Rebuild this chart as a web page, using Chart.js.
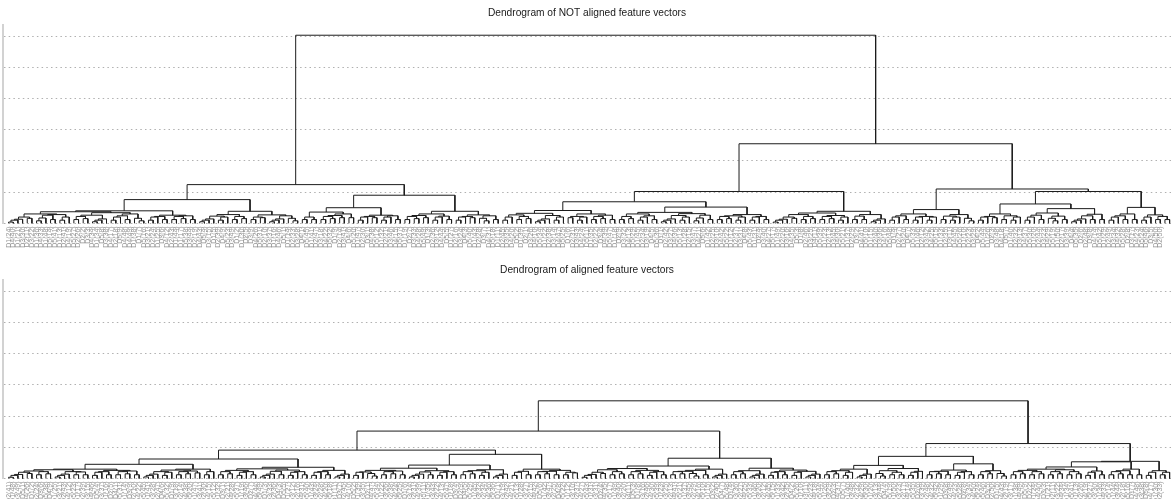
<!DOCTYPE html>
<html>
<head>
<meta charset="utf-8">
<script src="https://cdn.jsdelivr.net/npm/chart.js@4.4.0/dist/chart.umd.min.js"></script>
<style>
  body { margin: 0; background: #fff; }
  canvas { position: absolute; left: 0; }
  #top { top: 0; }
  #bottom { top: 258px; }
</style>
</head>
<body>
<canvas id="top" width="1171" height="258"></canvas>
<canvas id="bottom" width="1171" height="241"></canvas>
<script>
// titulos dos dois paineis
const titles = ['Dendrogram of NOT aligned feature vectors', 'Dendrogram of aligned feature vectors'];
// linhas de grade (altura de fusao)
const yGrid = [0, 1, 2, 3, 4, 5, 6];

// rotulos das folhas, na ordem do dendrograma
const topLabels = (
  'D1(24) D4(40) D1(21) D3(30) D2(11) D3(22) D1(36) D4(33) D1(48) D5(14) ' +
  'D5(41) D1(13) D2(41) D4(19) D5(27) D2(26) D2(2) D3(3) D4(34) D1(34) ' +
  'D5(8) D3(38) D4(17) D2(18) D5(9) D4(48) D4(49) D1(38) D1(7) D5(16) ' +
  'D3(21) D2(24) D1(25) D3(6) D4(12) D2(43) D1(44) D1(17) D5(38) D3(44) ' +
  'D2(19) D4(43) D5(4) D3(15) D1(5) D2(39) D4(9) D5(23) D3(49) D1(2) ' +
  'D1(30) D2(5) D3(9) D4(26) D5(31) D2(10) D3(37) D1(16) D4(46) D5(1) ' +
  'D1(14) D2(33) D3(28) D4(1) D5(45) D1(41) D2(47) D3(18) D4(22) D5(32) ' +
  'D1(9) D2(14) D3(41) D4(6) D5(20) D1(47) D2(30) D3(1) D4(38) D5(12) ' +
  'D1(32) D2(21) D3(46) D4(15) D5(37) D1(19) D2(7) D3(33) D4(28) D5(49) ' +
  'D1(3) D2(36) D3(12) D4(44) D5(5) D1(27) D2(16) D3(24) D4(3) D5(40) ' +
  'D1(43) D2(28) D3(7) D4(31) D5(18) D1(11) D2(45) D3(35) D4(20) D5(2) ' +
  'D1(39) D2(1) D3(26) D4(10) D5(34) D1(22) D2(38) D3(14) D4(47) D5(25) ' +
  'D1(6) D2(31) D3(43) D4(24) D5(11) D1(35) D2(22) D3(4) D4(39) D5(47) ' +
  'D1(18) D2(9) D3(32) D4(13) D5(29) D1(45) D2(34) D3(19) D4(5) D5(36) ' +
  'D1(1) D2(42) D3(27) D4(36) D5(13) D1(28) D2(15) D3(47) D4(21) D5(6) ' +
  'D1(42) D2(25) D3(10) D4(42) D5(22) D1(12) D2(37) D3(31) D4(8) D5(43) ' +
  'D1(31) D2(4) D3(40) D4(27) D5(17) D1(49) D2(20) D3(16) D4(35) D5(3) ' +
  'D1(8) D2(46) D3(25) D4(11) D5(39) D1(23) D2(13) D3(45) D4(30) D5(21) ' +
  'D1(37) D2(29) D3(2) D4(41) D5(10) D1(15) D2(40) D3(36) D4(16) D5(48) ' +
  'D1(4) D2(27) D3(20) D4(7) D5(33) D1(46) D2(12) D3(42) D4(25) D5(15) ' +
  'D1(33) D2(35) D3(11) D4(45) D5(26) D1(10) D2(23) D3(29) D4(2) D5(44) ' +
  'D1(26) D2(3) D3(48) D4(18) D5(7) D1(40) D2(32) D3(13) D4(37) D5(30) ' +
  'D1(20) D2(44) D3(23) D4(29) D5(19) D1(50) D2(17) D3(39) D4(4) D5(35) ' +
  'D2(6) D2(48) D3(8) D4(14) D5(42) D1(29) D2(49) D3(34) D4(32) D5(28) ' +
  'D2(8) D3(17) D4(23) D5(24) D5(46) D3(5) D4(50) D2(50)').split(' ');

const bottomLabels = (
  'D2(41) D1(48) D3(49) D5(1) D4(26) D1(2) D2(24) D3(6) D5(38) D4(9) ' +
  'D1(25) D3(21) D2(43) D4(12) D5(23) D1(17) D2(39) D3(15) D4(46) D5(4) ' +
  'D3(37) D1(16) D2(5) D4(1) D5(31) D1(14) D3(9) D2(10) D4(22) D5(45) ' +
  'D1(41) D3(28) D2(47) D4(6) D5(32) D1(9) D3(18) D2(14) D4(38) D5(20) ' +
  'D1(47) D3(41) D2(30) D4(15) D5(12) D1(32) D3(1) D2(21) D4(28) D5(37) ' +
  'D1(19) D3(46) D2(7) D4(44) D5(49) D1(3) D3(33) D2(36) D4(3) D5(5) ' +
  'D1(27) D3(12) D2(16) D4(31) D5(40) D1(43) D3(24) D2(28) D4(20) D5(18) ' +
  'D1(11) D3(7) D2(45) D4(10) D5(2) D1(39) D3(35) D2(1) D4(47) D5(34) ' +
  'D1(22) D3(26) D2(38) D4(24) D5(25) D1(6) D3(14) D2(31) D4(39) D5(11) ' +
  'D1(35) D3(43) D2(22) D4(13) D5(47) D1(18) D3(4) D2(9) D4(5) D5(29) ' +
  'D1(45) D3(32) D2(34) D4(36) D5(36) D1(1) D3(19) D2(42) D4(21) D5(13) ' +
  'D1(28) D3(27) D2(15) D4(42) D5(6) D1(42) D3(47) D2(25) D4(8) D5(22) ' +
  'D1(12) D3(10) D2(37) D4(27) D5(43) D1(31) D3(31) D2(4) D4(35) D5(17) ' +
  'D1(49) D3(40) D2(20) D4(11) D5(3) D1(8) D3(16) D2(46) D4(30) D5(39) ' +
  'D1(23) D3(25) D2(13) D4(41) D5(21) D1(37) D3(45) D2(29) D4(16) D5(10) ' +
  'D1(15) D3(2) D2(40) D4(7) D5(48) D1(4) D3(36) D2(27) D4(25) D5(33) ' +
  'D1(46) D3(20) D2(12) D4(45) D5(15) D1(33) D3(42) D2(35) D4(2) D5(26) ' +
  'D1(10) D3(11) D2(23) D4(18) D5(44) D1(26) D3(29) D2(3) D4(37) D5(7) ' +
  'D1(40) D3(48) D2(32) D4(29) D5(30) D1(20) D3(13) D2(44) D4(4) D5(19) ' +
  'D1(50) D3(23) D2(17) D4(14) D5(35) D2(6) D3(39) D2(48) D4(32) D5(42) ' +
  'D1(29) D3(8) D2(49) D4(23) D5(28) D2(8) D3(34) D4(50) D5(24) D5(46) ' +
  'D3(5) D2(50) D1(5) D4(43) D2(19) D3(17) D1(38) D4(49) D5(9) D2(2) ' +
  'D1(24) D4(40) D3(3) D1(21) D2(11) D3(22) D4(34) D1(34) D5(41) D1(13) ' +
  'D2(26) D4(19) D5(27) D3(30) D1(36) D4(33) D5(14) D1(44) D3(44) D2(18) ' +
  'D5(16) D1(7) D4(48) D3(38) D5(8) D4(17) D1(30) D2(33)').split(' ');

// Arvores: [altura, esquerda, direita]; 0 = folha
// pequenos grupos de base
const p2 = [0.12, 0, 0], q2 = [0.18, 0, 0];
const p3 = [0.2, [0.1, 0, 0], 0], q3 = [0.16, 0, [0.08, 0, 0]];
const p4 = [0.22, [0.12, 0, 0], [0.15, 0, 0]], q4 = [0.14, [0.1, [0.05, 0, 0], 0], 0];
const p5 = [0.26, [0.17, [0.08, 0, 0], 0], [0.12, 0, 0]];
const q5 = [0.2, [0.13, [0.1, [0.04, 0, 0], 0], 0], [0.16, 0, 0]];

// painel de cima (NOT aligned)
const topLeft = [1.24,
  [0.76,
    [0.4,
      [0.37, [0.3, q5, [0.28, p5, p3]], [0.34, [0.26, p4, q4], [0.3, [0.24, p3, p2], q3]]],
      [0.26, [0.22, p3, p2], [0.24, p4, p2]]],
    [0.385, [0.28, [0.23, q4, p3], p4], [0.27, [0.2, p2, q2], [0.24, q4, q3]]]],
  [0.9,
    [0.5, [0.36, [0.2, p2, p2], [0.3, [0.25, p4, q2], q2]], [0.26, [0.22, p3, q2], [0.24, p3, p2]]],
    [0.385, [0.3, [0.25, p4, q2], [0.23, p3, p2]], [0.27, [0.22, p3, q2], [0.24, q3, p2]]]]];

const topRight = [2.55,
  [1.02,
    [0.69,
      [0.41, [0.32, [0.27, p3, p4], [0.25, q4, p3]], [0.3, [0.22, q2, p3], [0.26, p4, p2]]],
      [0.52, [0.35, [0.3, p4, [0.24, p3, p2]], [0.31, [0.25, q4, p3], p5]], [0.28, [0.24, p4, p3], [0.22, p3, p2]]]],
    [0.385, [0.33, [0.28, q5, p4], [0.25, p4, p3]], [0.28, [0.23, p2, p2], q4]]],
  [1.1,
    [0.44, [0.3, [0.24, p3, p2], [0.22, p3, p3]], [0.28, [0.23, p2, p3], q3]],
    [1.02,
      [0.62, [0.3, [0.22, p3, q2], [0.24, p2, p3]],
        [0.47, [0.33, [0.26, p3, p2], [0.23, q3, p2]], [0.29, [0.24, q4, p2], p2]]],
      [0.51, [0.3, [0.24, p3, p2], p2], [0.27, p3, [0.22, p2, p2]]]]]];

const topTree = [6.03, topLeft, topRight];

// painel de baixo (aligned)
const bottomLeft = [1.52,
  [0.91,
    [0.625,
      [0.455,
        [0.3, [0.28, [0.24, q5, p4], [0.22, q4, [0.21, p2, p2]]], [0.26, [0.22, p3, p2], [0.24, p4, p2]]],
        [0.3, [0.27, [0.22, q4, p3], [0.24, p4, q2]], [0.22, p2, 0]]],
      [0.36, [0.31, [0.26, p4, [0.22, p3, p2]], [0.27, [0.23, q4, p2], [0.22, p3, p2]]], [0.26, [0.22, p3, p2], q4]]],
    [0.775,
      [0.43, [0.33, [0.26, [0.21, p3, q3], [0.24, p4, p2]], [0.25, [0.21, q4, p2], [0.22, p3, p2]]],
        [0.28, [0.25, p4, p3], q4]],
      [0.3, [0.23, p3, p2], [0.26, [0.23, p4, p2], [0.2, p2, q2]]]]],
  [0.65,
    [0.4, [0.32, [0.28, q5, p4], [0.26, p4, [0.22, p3, p2]]], [0.3, [0.26, [0.23, p4, q3], p2], q4]],
    [0.33, [0.25, p4, q4], [0.27, [0.22, p3, p2], [0.23, p3, q4]]]]];

const bottomRight = [1.12,
  [0.71,
    [0.42, [0.3, [0.25, p4, p3], q4], [0.32, [0.25, q3, [0.2, p2, p2]], [0.23, p3, 0]]],
    [0.47, [0.27, [0.23, p4, p2], [0.22, p3, p2]], [0.25, p4, q3]]],
  [0.55,
    [0.535,
      [0.37, [0.3, [0.26, p4, p4], [0.28, p4, p4]], [0.24, p3, p2]],
      [0.3, [0.25, p4, p2], p2]],
    [0.25, p3, [0.2, p2, 0]]]];

const bottomTree = [2.49, bottomLeft, bottomRight];

// percorre a arvore e monta os segmentos em "U" (com quebras null)
function buildSegments(tree) {
  const pts = [];
  let leaf = 0;
  function walk(node) {
    if (node === 0) return { x: leaf++, h: 0 };
    const a = walk(node[1]);
    const b = walk(node[2]);
    pts.push({ x: a.x, y: a.h }, { x: a.x, y: node[0] }, { x: b.x, y: node[0] }, { x: b.x, y: b.h }, { x: b.x, y: null });
    return { x: (a.x + b.x) / 2, h: node[0] };
  }
  walk(tree);
  return pts;
}

const fontFamily = '"Liberation Sans", Arial, Helvetica, sans-serif';

function makeChart(id, title, tree, labels, titlePad, axisHeight) {
  const ctx = document.getElementById(id).getContext('2d');
  return new Chart(ctx, {
    type: 'line',
    data: {
      datasets: [{
        data: buildSegments(tree),
        borderColor: '#1c1c1c',
        borderWidth: 1,
        pointRadius: 0,
        tension: 0,
        spanGaps: false,
        clip: false
      }]
    },
    options: {
      responsive: false,
      animation: false,
      events: [],
      layout: { padding: { left: 3, right: 0, top: 0, bottom: 0 } },
      plugins: {
        legend: { display: false },
        tooltip: { enabled: false },
        title: {
          display: true,
          text: title,
          color: '#1a1a1a',
          font: { family: fontFamily, size: 10.2, weight: 'normal', lineHeight: 1.2 },
          padding: titlePad
        }
      },
      scales: {
        x: {
          type: 'linear',
          min: -1.2,
          max: labels.length + 1.3,
          grid: { display: false, drawTicks: false },
          border: { display: false },
          afterBuildTicks: s => { s.ticks = labels.map((_, i) => ({ value: i })); },
          // altura fixa do eixo e sem margem extra para o ultimo rotulo
          afterFit: s => { s.height = axisHeight; s.paddingLeft = 0; s.paddingRight = 0; },
          ticks: {
            autoSkip: false,
            minRotation: 90,
            maxRotation: 90,
            padding: 3,
            color: '#959595',
            font: { family: fontFamily, size: 7 },
            callback: v => labels[Math.round(v)]
          }
        },
        y: {
          min: 0,
          max: 6.35,
          afterBuildTicks: s => { s.ticks = yGrid.map(v => ({ value: v })); },
          grid: { color: '#b0b0b0', lineWidth: 1, drawTicks: false },
          border: { display: true, color: '#d2d2d2', width: 2, dash: [1.5, 3.2] },
          ticks: { display: false }
        }
      }
    }
  });
}

makeChart('top', titles[0], topTree, topLabels, { top: 7.4, bottom: 5.6 }, 34.7);
makeChart('bottom', titles[1], bottomTree, bottomLabels, { top: 6.4, bottom: 3.76 }, 20.5);
</script>
</body>
</html>
